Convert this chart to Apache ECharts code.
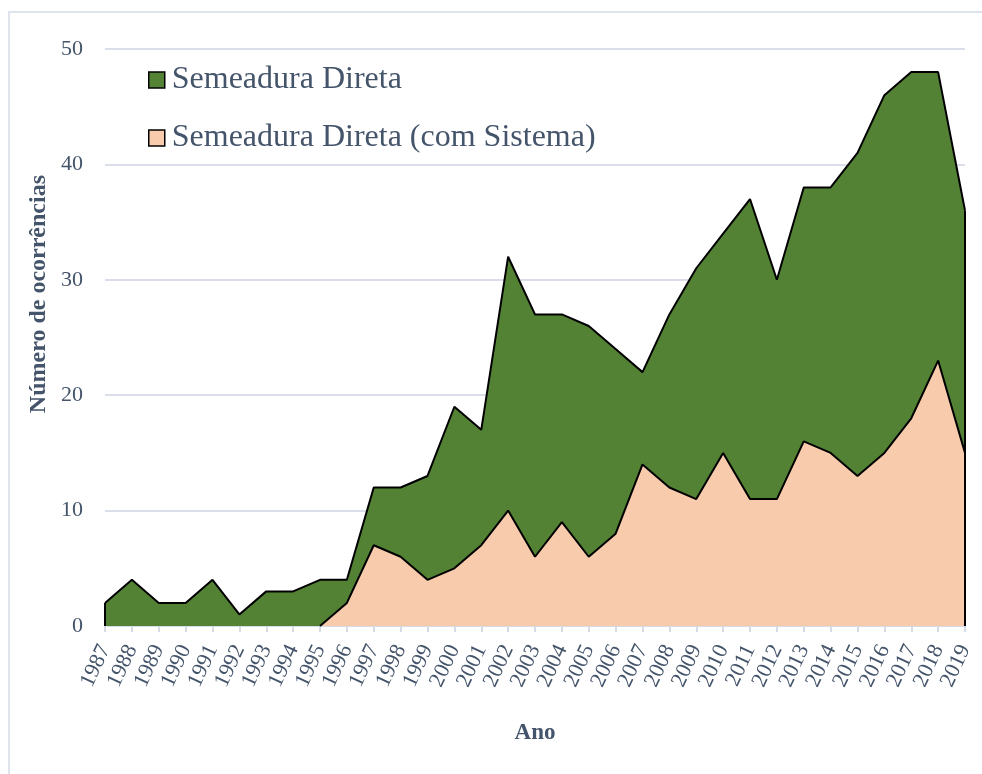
<!DOCTYPE html>
<html>
<head>
<meta charset="utf-8">
<script src="https://cdn.jsdelivr.net/npm/echarts@6/dist/echarts.min.js"></script>
<style>
html,body{margin:0;padding:0;background:#fff;}
#chart{width:982px;height:774px;}
</style>
</head>
<body>
<div id="chart"></div>
<script>
var years = ['1987','1988','1989','1990','1991','1992','1993','1994','1995','1996','1997','1998','1999','2000','2001','2002','2003','2004','2005','2006','2007','2008','2009','2010','2011','2012','2013','2014','2015','2016','2017','2018','2019'];
var semeaduraDireta = [2,4,2,2,4,1,3,3,4,4,12,12,13,19,17,32,27,27,26,24,22,27,31,34,37,30,38,38,41,46,48,48,36];
var comSistema = [null,null,null,null,null,null,null,null,0,2,7,6,4,5,7,10,6,9,6,8,14,12,11,15,11,11,16,15,13,15,18,23,15];
var yTicks = [0,10,20,30,40,50];
var seriesNames = ['Semeadura Direta','Semeadura Direta (com Sistema)'];

var txt = '#44546A';
var serif = '"Liberation Serif","Times New Roman",serif';
var chart = echarts.init(document.getElementById('chart'));
var last = years.length - 1;
chart.setOption({
  animation: false,
  backgroundColor: '#fff',
  textStyle: {fontFamily: serif},
  grid: {left: 105, right: 17, top: 49, bottom: 148},
  legend: {
    orient: 'vertical', left: 143, top: 59, itemGap: 26,
    itemWidth: 16, itemHeight: 16, icon: 'rect',
    textStyle: {fontFamily: serif, fontSize: 32, color: txt, padding: [0,0,0,2]},
    data: [
      {name: seriesNames[0], itemStyle: {color: '#548235', borderColor: '#000', borderWidth: 1.5}},
      {name: seriesNames[1], itemStyle: {color: '#F8CBAD', borderColor: '#000', borderWidth: 1.5}}
    ]
  },
  xAxis: {
    type: 'category', data: years, boundaryGap: false,
    name: 'Ano', nameLocation: 'middle', nameGap: 96,
    nameTextStyle: {fontFamily: serif, fontSize: 23, fontWeight: 'bold', color: txt},
    axisLine: {lineStyle: {color: '#D6DCE5', width: 2}},
    axisTick: {show: true, length: 6, interval: 0, lineStyle: {color: '#D6DCE5', width: 2}},
    axisLabel: {rotate: 65, interval: 0, fontSize: 22, color: txt, margin: 20, fontFamily: serif},
    splitLine: {show: false}
  },
  yAxis: {
    type: 'value', min: yTicks[0], max: yTicks[yTicks.length-1], interval: 10,
    axisLine: {show: false}, axisTick: {show: false},
    axisLabel: {fontSize: 22, color: txt, margin: 22, fontFamily: serif},
    splitLine: {lineStyle: {color: '#D9DEE8', width: 2}}
  },
  graphic: [
    {type: 'line', shape: {x1: 8, y1: 12, x2: 982, y2: 12}, style: {stroke: '#DEE3EC', lineWidth: 2}, silent: true},
    {type: 'line', shape: {x1: 9, y1: 12, x2: 9, y2: 774}, style: {stroke: '#DEE3EC', lineWidth: 2}, silent: true},
    {type: 'text', left: 27, top: 175, rotation: Math.PI/2,
     style: {text: 'Número de ocorrências', font: 'bold 24px ' + serif, fill: txt}}
  ],
  series: [
    {
      name: seriesNames[0], type: 'line', data: semeaduraDireta,
      showSymbol: false, symbol: 'none',
      lineStyle: {color: '#000', width: 2},
      itemStyle: {color: '#548235'},
      areaStyle: {color: '#548235', opacity: 1},
      z: 2,
      markLine: {
        silent: true, symbol: 'none', label: {show: false},
        lineStyle: {color: '#000', width: 2, type: 'solid'},
        data: [
          [{coord: [years[0], 0]}, {coord: [years[0], semeaduraDireta[0]]}],
          [{coord: [years[last], 0]}, {coord: [years[last], semeaduraDireta[last]]}]
        ]
      }
    },
    {
      name: seriesNames[1], type: 'line', data: comSistema,
      showSymbol: false, symbol: 'none',
      lineStyle: {color: '#000', width: 2},
      itemStyle: {color: '#F8CBAD'},
      areaStyle: {color: '#F8CBAD', opacity: 1},
      z: 3
    }
  ]
});
</script>
</body>
</html>
